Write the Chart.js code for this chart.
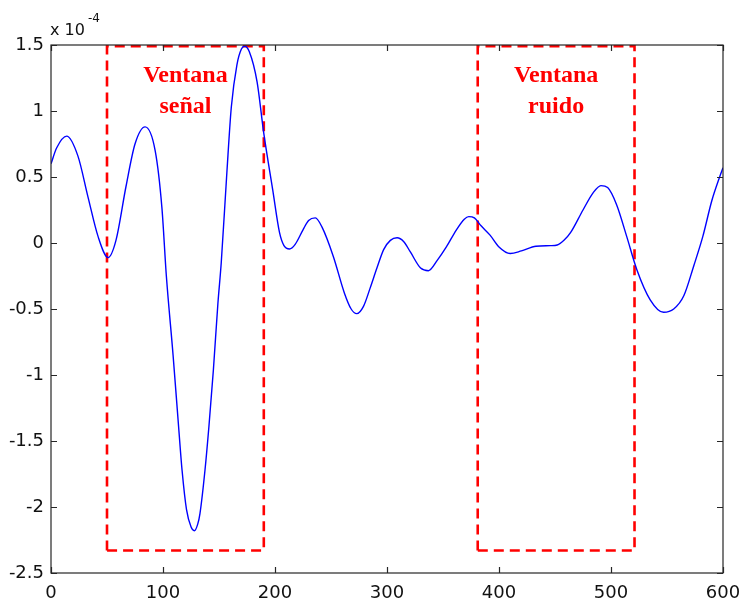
<!DOCTYPE html>
<html>
<head>
<meta charset="utf-8">
<script src="https://cdn.jsdelivr.net/npm/chart.js@4.4.1/dist/chart.umd.min.js"></script>
<style>
  html, body { margin: 0; padding: 0; background: #fff; }
  #wrap { width: 740px; height: 598px; position: relative; }
</style>
</head>
<body>
<div id="wrap"><canvas id="mychart"></canvas></div>
<script>
// data (values in units of 1e-4)
const sampleX = [0, 5, 14, 24, 33, 42, 51, 58, 67, 75, 84, 93, 99, 103, 109, 114, 117, 121, 125, 128,
  131, 133, 137.5, 141, 145, 149, 152, 157, 161, 166, 170, 173, 177, 184, 190, 198, 204, 208, 213, 218,
  225, 230, 236, 242, 252, 262, 268, 273, 279, 285, 291, 297, 303, 309, 315, 321, 330, 337, 345, 353,
  362, 369, 373, 378, 384, 392, 400, 410, 420, 433, 446, 452, 458, 464, 475, 484, 491, 497, 505, 514,
  523, 535, 547, 556, 565, 574, 582, 590, 597, 600];
const signal = [0.60, 0.72, 0.81, 0.66, 0.35, 0.05, -0.11, 0.02, 0.43, 0.75, 0.88, 0.70, 0.27, -0.25, -0.85, -1.40, -1.72, -2.02, -2.15, -2.18,
  -2.13, -2.05, -1.72, -1.39, -0.96, -0.46, -0.15, 0.53, 1.03, 1.35, 1.47, 1.49, 1.45, 1.22, 0.83, 0.40, 0.08, -0.02, -0.045, -0.01,
  0.10, 0.17, 0.19, 0.12, -0.10, -0.38, -0.50, -0.535, -0.48, -0.34, -0.19, -0.05, 0.02, 0.04, 0.01, -0.07, -0.19, -0.21, -0.13, -0.03,
  0.10, 0.18, 0.20, 0.19, 0.13, 0.06, -0.03, -0.08, -0.06, -0.025, -0.02, -0.015, 0.02, 0.08, 0.25, 0.38, 0.435, 0.42, 0.29, 0.05,
  -0.20, -0.43, -0.525, -0.50, -0.40, -0.17, 0.05, 0.32, 0.50, 0.57];

const signalWindow = [50, 190];
const noiseWindow = [381, 521];
const windowLow = -2.33;
const windowHigh = 1.49;
const signalLabel = ['Ventana', 'señal'];
const noiseLabel = ['Ventana', 'ruido'];

const xTicks = [0, 100, 200, 300, 400, 500, 600];
const yTicks = [-2.5, -2, -1.5, -1, -0.5, 0, 0.5, 1, 1.5];
const exponentText = ['x 10', '-4'];

function boxPoints(w) {
  return [
    { x: w[0], y: windowLow }, { x: w[0], y: windowHigh },
    { x: w[1], y: windowHigh }, { x: w[1], y: windowLow }, { x: w[0], y: windowLow }
  ];
}

const tickFont = { family: 'DejaVu Sans', size: 18 };

// frame, inward ticks, window labels, exponent
const decorations = {
  id: 'decorations',
  afterDraw(chart) {
    const c = chart.ctx;
    const a = chart.chartArea;
    const xs = chart.scales.x, ys = chart.scales.y;
    c.save();
    c.strokeStyle = '#262626';
    c.lineWidth = 1.2;
    c.strokeRect(a.left, a.top, a.right - a.left, a.bottom - a.top);
    c.beginPath();
    xTicks.forEach(v => {
      const px = Math.round(xs.getPixelForValue(v)) + 0.5;
      c.moveTo(px, a.bottom); c.lineTo(px, a.bottom - 6);
      c.moveTo(px, a.top); c.lineTo(px, a.top + 6);
    });
    yTicks.forEach(v => {
      const py = Math.round(ys.getPixelForValue(v)) + 0.5;
      c.moveTo(a.left, py); c.lineTo(a.left + 6, py);
      c.moveTo(a.right, py); c.lineTo(a.right - 6, py);
    });
    c.stroke();

    // window texts
    c.fillStyle = '#ff0000';
    c.font = 'bold 24px "Liberation Serif"';
    c.textAlign = 'center';
    c.textBaseline = 'alphabetic';
    [[signalWindow, signalLabel], [noiseWindow, noiseLabel]].forEach(([w, lines]) => {
      const cx = (xs.getPixelForValue(w[0]) + xs.getPixelForValue(w[1])) / 2;
      c.fillText(lines[0], cx, a.top + 37);
      c.fillText(lines[1], cx, a.top + 68);
    });

    // x 10^-4
    c.fillStyle = '#111';
    c.textAlign = 'left';
    c.font = '16px "DejaVu Sans"';
    c.fillText(exponentText[0], a.left - 1, a.top - 10);
    const w = c.measureText(exponentText[0]).width;
    c.font = '12px "DejaVu Sans"';
    c.fillText(exponentText[1], a.left + w + 2, a.top - 23);
    c.restore();
  }
};

const ctx = document.getElementById('mychart');
new Chart(ctx, {
  type: 'line',
  data: {
    datasets: [
      {
        data: sampleX.map((x, i) => ({ x: x, y: signal[i] })),
        borderColor: '#0000ff',
        borderWidth: 1.4,
        pointRadius: 0,
        cubicInterpolationMode: 'monotone',
        fill: false
      },
      {
        data: boxPoints(signalWindow),
        borderColor: '#ff0000',
        borderWidth: 2.6,
        borderDash: [10, 6],
        pointRadius: 0,
        tension: 0,
        fill: false
      },
      {
        data: boxPoints(noiseWindow),
        borderColor: '#ff0000',
        borderWidth: 2.6,
        borderDash: [10, 6],
        pointRadius: 0,
        tension: 0,
        fill: false
      }
    ]
  },
  options: {
    responsive: true,
    maintainAspectRatio: false,
    animation: false,
    layout: { padding: { top: 45, right: 17, left: 0, bottom: 0 } },
    plugins: { legend: { display: false }, tooltip: { enabled: false } },
    scales: {
      x: {
        type: 'linear',
        min: 0, max: 600,
        grid: { display: false, drawTicks: false },
        border: { display: false },
        afterFit: s => { s.height = 25; s.paddingLeft = 0; s.paddingRight = 0; },
        afterBuildTicks: s => { s.ticks = xTicks.map(v => ({ value: v })); },
        ticks: { font: tickFont, color: '#111', padding: 10, maxRotation: 0, autoSkip: false,
          callback: v => String(v) }
      },
      y: {
        type: 'linear',
        min: -2.5, max: 1.5,
        grid: { display: false, drawTicks: false },
        border: { display: false },
        afterFit: s => { s.width = 51; s.paddingTop = 0; s.paddingBottom = 0; },
        afterBuildTicks: s => { s.ticks = yTicks.map(v => ({ value: v })); },
        ticks: { font: tickFont, color: '#111', padding: 7, autoSkip: false,
          callback: v => String(v) }
      }
    }
  },
  plugins: [decorations]
});
</script>
</body>
</html>
